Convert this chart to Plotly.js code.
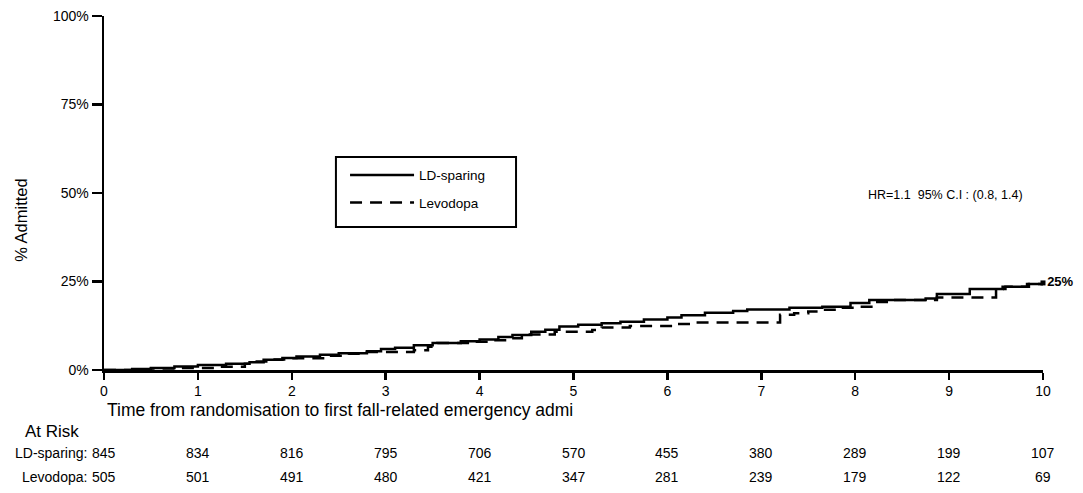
<!DOCTYPE html>
<html><head><meta charset="utf-8">
<script src="https://cdn.plot.ly/plotly-3.0.1.min.js"></script>
<style>html,body{margin:0;padding:0;background:#fff}#chart{width:1083px;height:493px}</style>
</head><body><div id="chart"></div>
<script>
// Kaplan-Meier style cumulative incidence (% admitted)
const ldTime = [0,0.3,0.5,0.75,1.0,1.3,1.55,1.7,1.9,2.05,2.3,2.5,2.8,2.95,3.1,3.3,3.5,3.8,4.0,4.2,4.35,4.55,4.7,4.85,5.05,5.3,5.5,5.75,6.0,6.15,6.4,6.7,6.85,7.3,7.65,7.95,8.15,8.75,8.87,9.22,9.57,9.83,10.0];
const ldPct  = [0,0.3,0.6,1.0,1.4,1.8,2.2,2.9,3.4,3.8,4.3,4.7,5.3,5.9,6.3,7.0,7.6,8.1,8.6,9.3,9.9,10.8,11.4,12.3,12.8,13.2,13.6,14.3,14.8,15.5,16.2,16.7,17.1,17.6,17.9,18.9,19.8,20.2,21.5,22.9,23.5,24.3,24.6];
const levTime = [0,0.5,0.8,1.2,1.5,1.6,1.8,2.0,2.4,2.6,2.8,3.3,3.45,3.55,3.9,4.1,4.3,4.45,4.8,5.2,5.3,5.6,6.1,6.3,7.2,7.35,7.5,7.65,7.85,8.05,8.2,8.35,8.87,9.5,9.6,9.85,10.0];
const levPct  = [0,0.4,0.6,0.9,1.8,2.4,3.0,3.3,4.0,4.6,5.1,5.6,6.6,7.6,8.0,8.4,9.0,10.0,10.8,11.3,12.0,12.4,13.0,13.4,15.6,16.0,16.5,17.0,17.6,17.9,19.2,19.8,20.5,22.9,23.5,24.3,24.6];
const seriesNames = ["LD-sparing", "Levodopa"];
const endLabel = "25%";
const hrText = "HR=1.1  95% C.I : (0.8, 1.4)";
const xTicks = [0,1,2,3,4,5,6,7,8,9,10];
const yTicks = [0,25,50,75,100];
const yTickLabels = ["0%","25%","50%","75%","100%"];
const atRiskLD  = [845,834,816,795,706,570,455,380,289,199,107];
const atRiskLev = [505,501,491,480,421,347,281,239,179,122,69];

const FONT = "Liberation Sans, Arial, sans-serif";

const traces = [
  {x: ldTime, y: ldPct, name: seriesNames[0], type: "scatter", mode: "lines",
   line: {shape: "hv", color: "#000", width: 2.5}, legendgroup: "a"},
  {x: levTime, y: levPct, name: seriesNames[1], type: "scatter", mode: "lines",
   line: {shape: "hv", color: "#000", width: 2.5, dash: "12px,8px"}, legendgroup: "b"},
  {x: [ldTime[ldTime.length-1]], y: [ldPct[ldPct.length-1]], type: "scatter", mode: "markers+text",
   text: [endLabel], textposition: "middle right", cliponaxis: false, showlegend: false,
   marker: {symbol: "square", size: 5, color: "#000"},
   textfont: {family: FONT, size: 13, color: "#000", weight: "bold"}, hoverinfo: "skip"}
];

const ann = [];
ann.push({text: "% Admitted", xref: "paper", yref: "paper", x: -0.0885, y: 0.424, xanchor: "center", textangle: -90,
  showarrow: false, font: {family: FONT, size: 16.5, color: "#000"}});
ann.push({text: "Time from randomisation to first fall-related emergency admi", xref: "paper", yref: "paper",
  x: 0.001, y: -0.114, xanchor: "left", yanchor: "middle", showarrow: false, font: {family: FONT, size: 17.5, color: "#000"}});
ann.push({text: "At Risk", xref: "paper", yref: "paper", x: -0.086, y: -0.174, xanchor: "left", yanchor: "middle",
  showarrow: false, font: {family: FONT, size: 17, color: "#000"}});
ann.push({text: hrText, xref: "paper", yref: "paper", x: 0.896, y: 0.494, xanchor: "center", yanchor: "middle",
  showarrow: false, font: {family: FONT, size: 12.5, color: "#000"}});
ann.push({text: seriesNames[0] + ":", xref: "paper", yref: "paper", x: -0.0155, y: -0.2345, xanchor: "right", yanchor: "middle",
  showarrow: false, font: {family: FONT, size: 14, color: "#000"}});
ann.push({text: seriesNames[1] + ":", xref: "paper", yref: "paper", x: -0.0155, y: -0.302, xanchor: "right", yanchor: "middle",
  showarrow: false, font: {family: FONT, size: 14, color: "#000"}});
xTicks.forEach((t, i) => {
  ann.push({text: String(atRiskLD[i]), xref: "x", yref: "paper", x: t, y: -0.2345, xanchor: "center", yanchor: "middle",
    showarrow: false, font: {family: FONT, size: 14, color: "#000"}});
  ann.push({text: String(atRiskLev[i]), xref: "x", yref: "paper", x: t, y: -0.302, xanchor: "center", yanchor: "middle",
    showarrow: false, font: {family: FONT, size: 14, color: "#000"}});
});

const layout = {
  width: 1083, height: 493,
  margin: {l: 104, r: 40, t: 16, b: 123},
  paper_bgcolor: "#fff", plot_bgcolor: "#fff",
  font: {family: FONT, size: 12, color: "#000"},
  xaxis: {range: [0, 10], tickvals: xTicks, ticktext: xTicks.map(String), showgrid: false, zeroline: false,
    showline: true, linecolor: "#000", linewidth: 2.5, ticks: "outside", ticklen: 7, tickwidth: 2.5, tickcolor: "#000",
    tickfont: {family: FONT, size: 14, color: "#000"}, fixedrange: true},
  yaxis: {range: [0, 100], tickvals: yTicks, ticktext: yTickLabels, showgrid: false, zeroline: false,
    showline: true, linecolor: "#000", linewidth: 2.5, ticks: "outside", ticklen: 10, tickwidth: 2.5, tickcolor: "#000",
    tickfont: {family: FONT, size: 14, color: "#000"}, fixedrange: true},
  showlegend: true,
  legend: {x: 0.2567, y: 0.594, xanchor: "left", yanchor: "top", bgcolor: "rgba(0,0,0,0)", borderwidth: 0,
    font: {family: FONT, size: 13.5, color: "#000"}, itemwidth: 64, tracegroupgap: 7},
  shapes: [{type: "rect", xref: "paper", yref: "paper", x0: 0.247, x1: 0.4388, y0: 0.404, y1: 0.6017,
    line: {color: "#000", width: 2}, fillcolor: "rgba(0,0,0,0)", layer: "above"}],
  annotations: ann
};
Plotly.newPlot("chart", traces, layout, {displayModeBar: false, staticPlot: true});
</script></body></html>
